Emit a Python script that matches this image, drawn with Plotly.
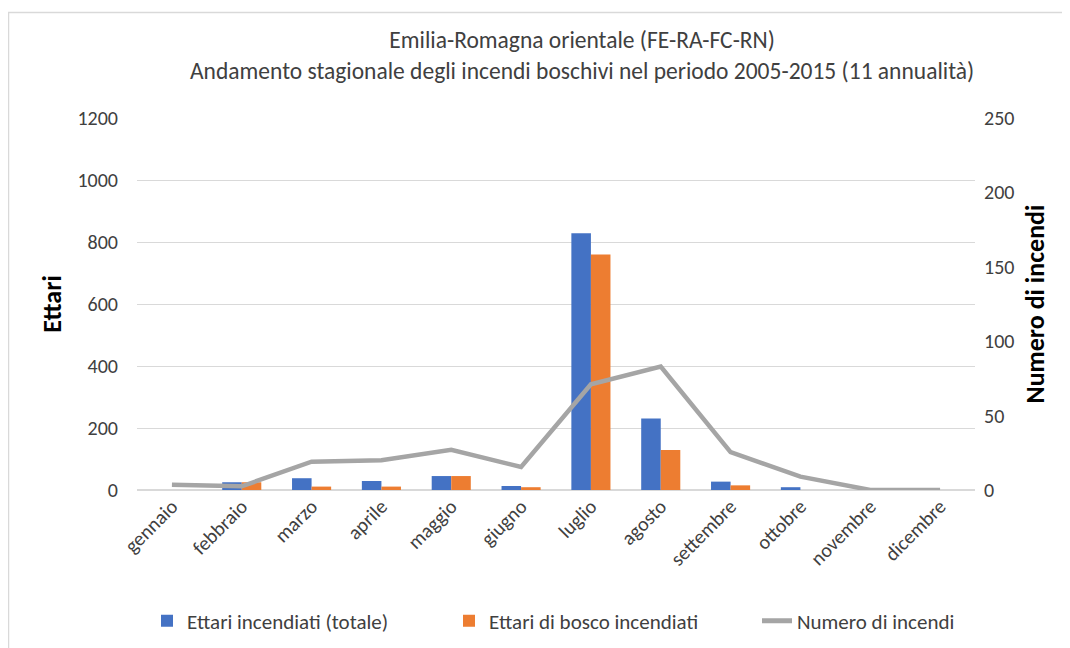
import plotly.graph_objects as go

mesi = ["gennaio", "febbraio", "marzo", "aprile", "maggio", "giugno",
        "luglio", "agosto", "settembre", "ottobre", "novembre", "dicembre"]
ettari_totale = [0, 25, 38, 29, 45, 13, 828, 231, 27, 9, 0, 0]
ettari_bosco = [0, 25, 11, 11, 45, 9, 760, 129, 15, 0, 0, 0]
numero_incendi = [3.5, 2.5, 19, 20, 27, 15.5, 71, 83, 25.5, 9, 0, 0]

FONT = "Calibri, Carlito, Lato, sans-serif"
OFF = 8  # browser body margin
W, H = 1070 - OFF, 648 - OFF
# plot area in page pixels: x 137..975, y 118..490
L, T = 137 - OFF, 118 - OFF
R = W - (975 - OFF)
B = H - (490 - OFF)
pw, ph = W - L - R, H - T - B


def px(x):  # page x -> paper
    return (x - OFF - L) / pw


def py(y):  # page y -> paper
    return (H - B - (y - OFF)) / ph


fig = go.Figure()
fig.add_trace(go.Bar(x=mesi, y=ettari_totale, name="Ettari incendiati (totale)",
                     marker=dict(color="#4472C4", line=dict(width=0)), legend="legend",
                     showlegend=True))
fig.add_trace(go.Bar(x=mesi, y=ettari_bosco, name="Ettari di bosco incendiati",
                     marker=dict(color="#ED7D31", line=dict(width=0)), legend="legend2",
                     showlegend=True))
fig.add_trace(go.Scatter(x=mesi, y=numero_incendi, name="Numero di incendi", yaxis="y2",
                         mode="lines", line=dict(color="#A5A5A5", width=4.5), legend="legend3",
                         showlegend=True))

leg_common = dict(orientation="h", xanchor="left", yanchor="middle", y=py(621),
                  font=dict(size=21, color="#404040"), bgcolor="rgba(0,0,0,0)",
                  itemsizing="constant", visible=True)

fig.update_layout(
    width=W, height=H,
    margin=dict(l=L, r=R, t=T, b=B, autoexpand=False),
    paper_bgcolor="white", plot_bgcolor="white",
    font=dict(family=FONT, size=20, color="#404040"),
    showlegend=True,
    barmode="group", bargap=0.44, bargroupgap=0,
    title=dict(text="Emilia-Romagna orientale (FE-RA-FC-RN)<br>Andamento stagionale degli incendi boschivi nel periodo 2005-2015 (11 annualità)",
               x=px(590), xanchor="center", y=1 - (48 - OFF) / H, yanchor="middle",
               font=dict(family=FONT, size=23.5, color="#404040")),
    xaxis=dict(tickangle=-45, showgrid=False, showline=False, ticks="",
               tickfont=dict(size=20, color="#404040")),
    yaxis=dict(range=[0, 1200], dtick=200, gridcolor="#D9D9D9", gridwidth=1,
               zeroline=True, zerolinecolor="#D9D9D9", zerolinewidth=1.5,
               showline=False, ticks="", ticklabelstandoff=18,
               tickfont=dict(size=20, color="#404040"),
               title=dict(text="<b>Ettari</b>", font=dict(size=26, color="#000000"), standoff=8)),
    yaxis2=dict(range=[0, 250], dtick=50, overlaying="y", side="right",
                showgrid=False, zeroline=False, showline=False, ticks="",
                ticklabelstandoff=8, tickfont=dict(size=20, color="#404040"),
                title=dict(text="<b>Numero di incendi</b>", font=dict(size=26, color="#000000"), standoff=12)),
    legend=dict(leg_common, x=px(147)),
    legend2=dict(leg_common, x=px(449)),
    legend3=dict(leg_common, x=px(757)),
    shapes=[dict(type="line", xref="paper", yref="paper", x0=px(8), x1=px(1090), y0=py(12.5), y1=py(12.5),
                 line=dict(color="#D9D9D9", width=1.5)),
            dict(type="line", xref="paper", yref="paper", x0=px(8.5), x1=px(8.5), y0=py(12.5), y1=py(680),
                 line=dict(color="#D9D9D9", width=1.5))],
)

fig.write_html("out.html")
